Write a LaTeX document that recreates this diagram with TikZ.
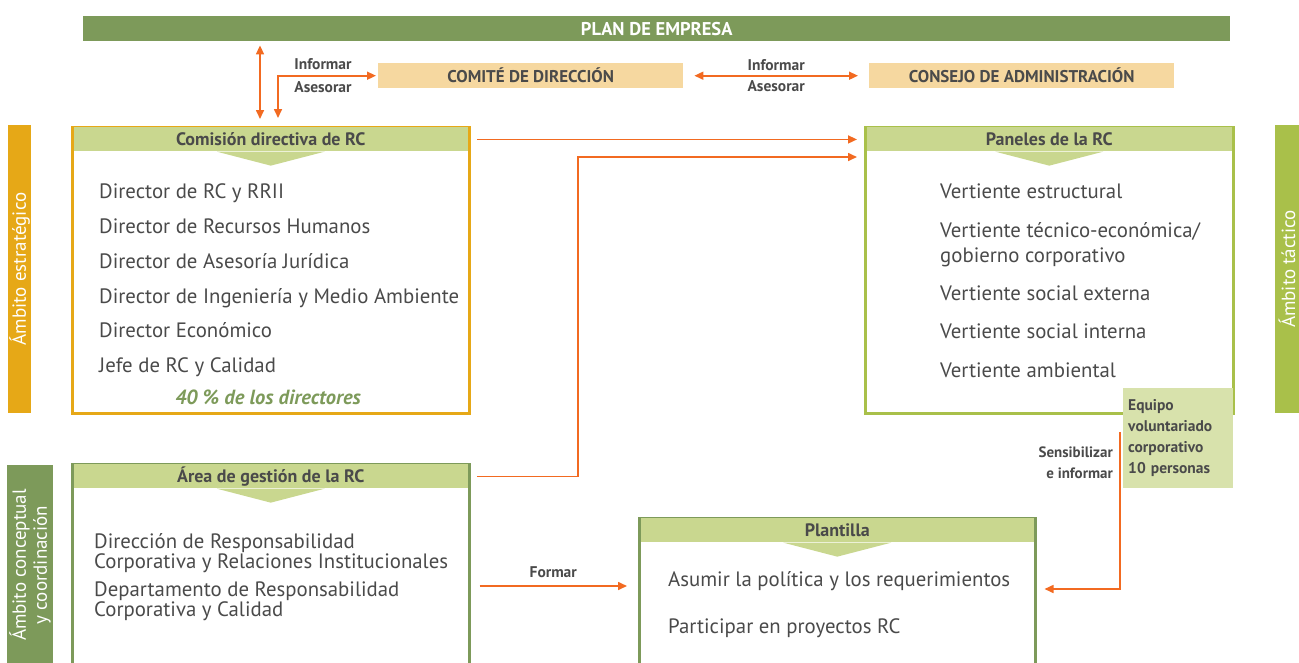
\documentclass[tikz,border=0pt]{standalone}
\usepackage{fontspec}
\setmainfont{PT Sans}
\usetikzlibrary{arrows.meta}

\definecolor{planolive}{HTML}{7D9A5A}
\definecolor{peach}{HTML}{F6D8A0}
\definecolor{gold}{HTML}{E6A817}
\definecolor{headgreen}{HTML}{C9D78F}
\definecolor{lime}{HTML}{A9C04A}
\definecolor{paleolive}{HTML}{D8E2AC}
\definecolor{arroworange}{HTML}{F26A21}
\definecolor{textgray}{HTML}{4A4A4A}

\tikzset{
  link/.style={draw=arroworange, line width=1.6pt, >={Triangle[length=9pt,width=8pt]}},
  linklabel/.style={text=textgray, font=\bfseries\fontsize{15.5}{17}\selectfont, inner sep=2pt},
  topbox/.style={fill=peach, minimum width=305pt, minimum height=25pt, text=textgray,
    font=\bfseries\fontsize{17}{19}\selectfont, anchor=north west, inner sep=0},
  panel/.style={draw, line width=2.5pt, anchor=north west, inner sep=0},
  head/.style={fill=headgreen, anchor=north, minimum height=24pt, inner sep=0,
    text=textgray, font=\bfseries\fontsize{18}{20}\selectfont},
  item/.style={anchor=base west, inner sep=0, text=textgray, font=\fontsize{20.8}{22}\selectfont},
  sidebar/.style={rotate=90, inner sep=0, text=white, align=center,
    font=\fontsize{19}{21}\selectfont},
}

\newcommand{\headpointer}[1]{\fill[headgreen] ([xshift=-54pt]#1.south) -- ([xshift=54pt]#1.south) -- ([yshift=-14pt]#1.south) -- cycle;}

\begin{document}
\begin{tikzpicture}[x=1pt, y=-1pt]
    \useasboundingbox (0,0) rectangle (1299,662);

    % Plan de empresa
    \node[fill=planolive, minimum width=1147pt, minimum height=25pt, anchor=north west, inner sep=0,
      text=white, font=\bfseries\fontsize{18.5}{20}\selectfont] (plan) at (83,16) {PLAN DE EMPRESA};

    % Comite y consejo
    \node[topbox] (comite) at (378,63) {COMITÉ DE DIRECCIÓN};
    \node[topbox] (consejo) at (869,63) {CONSEJO DE ADMINISTRACIÓN};

    % Side bars
    \node[sidebar, fill=gold, minimum width=288pt, minimum height=23pt] (estrategico) at (19.5,269) {Ámbito estratégico};
    \node[sidebar, fill=lime, minimum width=288pt, minimum height=24pt] (tactico) at (1287,269) {Ámbito táctico};
    \node[sidebar, fill=planolive, minimum width=200pt, minimum height=46pt] (conceptual) at (30,565) {Ámbito conceptual\\y coordinación};

    % Comision directiva
    \node[panel, draw=gold, minimum width=397pt, minimum height=286pt] (comision) at (71,126) {};
    \node[head, minimum width=394pt] (comisionhead) at ([yshift=-1.25pt]comision.north) {Comisión directiva de RC};
    \headpointer{comisionhead}
    \node[item] (dir1) at (99,198) {Director de RC y RRII};
    \node[item] (dir2) at (99,233) {Director de Recursos Humanos};
    \node[item] (dir3) at (99,268) {Director de Asesoría Jurídica};
    \node[item] (dir4) at (99,303) {Director de Ingeniería y Medio Ambiente};
    \node[item] (dir5) at (99,337) {Director Económico};
    \node[item] (dir6) at (99,372) {Jefe de RC y Calidad};
    \node[anchor=base, inner sep=0, text=planolive, font=\bfseries\itshape\fontsize{20.5}{22}\selectfont]
      (porcentaje) at (268,404) {40 \% de los directores};

    % Paneles de la RC
    \node[panel, draw=lime, minimum width=368pt, minimum height=286pt] (paneles) at (864,126) {};
    \node[head, minimum width=365pt] (paneleshead) at ([yshift=-1.25pt]paneles.north) {Paneles de la RC};
    \headpointer{paneleshead}
    \node[item] (ver1) at (940,198) {Vertiente estructural};
    \node[item] (ver2) at (940,237) {Vertiente técnico-económica/};
    \node[item] (ver2b) at (940,262) {gobierno corporativo};
    \node[item] (ver3) at (940,300) {Vertiente social externa};
    \node[item] (ver4) at (940,338) {Vertiente social interna};
    \node[item] (ver5) at (940,377) {Vertiente ambiental};

    % Equipo voluntariado
    \node[fill=paleolive, anchor=north west, minimum width=110pt, minimum height=100pt, text width=100pt,
      inner xsep=5pt, align=left, text=textgray, font=\bfseries\fontsize{15.5}{21}\selectfont]
      (equipo) at (1123,388) {Equipo\\voluntariado\\corporativo\\10 personas};

    % Area de gestion
    \node[panel, draw=planolive, minimum width=397pt, minimum height=205pt] (area) at (71,463) {};
    \node[head, minimum width=394pt] (areahead) at ([yshift=-1.25pt]area.north) {Área de gestión de la RC};
    \headpointer{areahead}
    \node[item] (gest1) at (94,548) {Dirección de Responsabilidad};
    \node[item] (gest1b) at (94,568) {Corporativa y Relaciones Institucionales};
    \node[item] (gest2) at (94,596) {Departamento de Responsabilidad};
    \node[item] (gest2b) at (94,616) {Corporativa y Calidad};

    % Plantilla
    \node[panel, draw=planolive, minimum width=396pt, minimum height=160pt] (plantilla) at (638,517) {};
    \node[head, minimum width=393pt] (plantillahead) at ([yshift=-1.25pt]plantilla.north) {Plantilla};
    \headpointer{plantillahead}
    \node[item] (plan1) at (668,586) {Asumir la política y los requerimientos};
    \node[item] (plan2) at (668,633) {Participar en proyectos RC};

    % Connectors
    \coordinate (upx) at (260,0);
    \coordinate (downx) at (278,118);
    \coordinate (midx) at (578,157);
    \coordinate (formy) at (0,586);
    \coordinate (sensy) at (0,589);
    \draw[link, <->] ([yshift=-4pt]plan.south -| upx) -- ([yshift=7pt]comision.north -| upx);
    \draw[link, <->] ([xshift=-2pt]comite.west) -| (downx);
    \node[linklabel, anchor=base] (inf1) at (323,69) {Informar};
    \node[linklabel, anchor=base] (ase1) at (323,92) {Asesorar};
    \draw[link, <->] ([xshift=11pt]comite.east) -- node[linklabel, above=2pt] (inf2) {Informar}
      node[linklabel, below=2pt] (ase2) {Asesorar} ([xshift=-11pt]consejo.west);
    \draw[link, ->] ([xshift=9pt]comisionhead.east) -- ([xshift=-7pt]paneles.west |- comisionhead.east);
    \draw[link, ->] ([xshift=9pt]areahead.east) -| (midx) -- ([xshift=-7pt]paneles.west |- midx);
    \draw[link, ->] ([xshift=9pt]area.east |- formy) -- node[linklabel, above=5pt] (formar) {Formar}
      ([xshift=-11pt]plantilla.west |- formy);
    \draw[link, ->] ([xshift=-3pt,yshift=-44pt]equipo.north west) |- ([xshift=8pt]plantilla.east |- sensy);
    \node[linklabel, anchor=north east, align=right, font=\bfseries\fontsize{15}{21}\selectfont]
      (sensibilizar) at (1115,445) {Sensibilizar\\e informar};
\end{tikzpicture}
\end{document}
